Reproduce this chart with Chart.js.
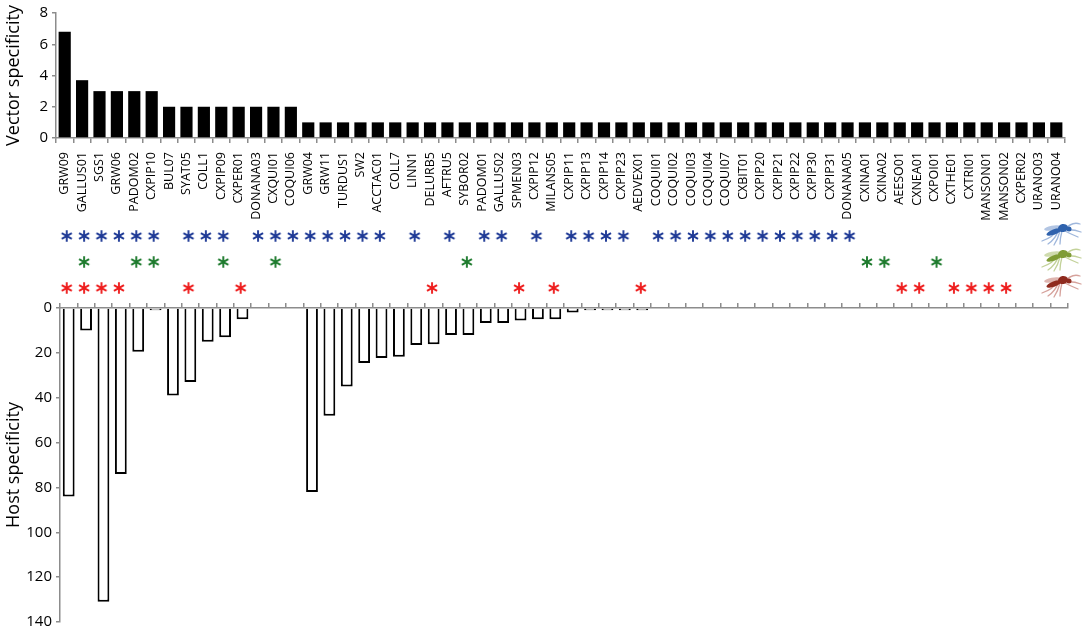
<!DOCTYPE html>
<html>
<head>
<meta charset="utf-8">
<title>Vector and host specificity</title>
<script src="https://cdn.jsdelivr.net/npm/chart.js@4.4.1/dist/chart.umd.min.js"></script>
<style>
    html, body { margin: 0; padding: 0; background: #fff; }
    #page { position: relative; width: 1084px; height: 630px; overflow: hidden; }
    .panel { position: absolute; left: 0; width: 1084px; }
    #vectorPanel { top: 0; height: 240px; }
    #markerPanel { top: 213px; height: 100px; }
    #hostPanel { top: 290px; height: 345px; }
</style>
</head>
<body>
<div id="page">
    <div class="panel" id="vectorPanel"><canvas id="vectorChart"></canvas></div>
    <div class="panel" id="hostPanel"><canvas id="hostChart"></canvas></div>
    <div class="panel" id="markerPanel"><canvas id="markerChart"></canvas></div>
</div>
<script>
// Parasite lineages, in the order of the x axis
const lineages = [
    'GRW09', 'GALLUS01', 'SGS1', 'GRW06', 'PADOM02', 'CXPIP10', 'BUL07', 'SYAT05',
    'COLL1', 'CXPIP09', 'CXPER01', 'DONANA03', 'CXQUI01', 'COQUI06', 'GRW04', 'GRW11',
    'TURDUS1', 'SW2', 'ACCTAC01', 'COLL7', 'LINN1', 'DELURB5', 'AFTRU5', 'SYBOR02',
    'PADOM01', 'GALLUS02', 'SPMEN03', 'CXPIP12', 'MILANS05', 'CXPIP11', 'CXPIP13', 'CXPIP14',
    'CXPIP23', 'AEDVEX01', 'COQUI01', 'COQUI02', 'COQUI03', 'COQUI04', 'COQUI07', 'CXBIT01',
    'CXPIP20', 'CXPIP21', 'CXPIP22', 'CXPIP30', 'CXPIP31', 'DONANA05', 'CXINA01', 'CXINA02',
    'AEESO01', 'CXNEA01', 'CXPOI01', 'CXTHE01', 'CXTRI01', 'MANSON01', 'MANSON02', 'CXPER02',
    'URANO03', 'URANO04'
];

// Number of vector species per lineage
const vectorSpecificity = [
    6.8, 3.7, 3, 3, 3, 3, 2, 2,
    2, 2, 2, 2, 2, 2, 1, 1,
    1, 1, 1, 1, 1, 1, 1, 1,
    1, 1, 1, 1, 1, 1, 1, 1,
    1, 1, 1, 1, 1, 1, 1, 1,
    1, 1, 1, 1, 1, 1, 1, 1,
    1, 1, 1, 1, 1, 1, 1, 1,
    1, 1
];

// Host specificity (null = no host record)
const hostSpecificity = [
    84, 10, 131, 74, 19.5, 1, 39, 33,
    15, 13, 5, null, null, null, 82, 48,
    35, 24.5, 22.3, 21.7, 16.5, 16.2, 12, 12,
    6.7, 6.7, 5.6, 5, 5, 2, 1, 1,
    1, 1, null, null, null, null, null, null,
    null, null, null, null, null, null, null, null,
    null, null, null, null, null, null, null, null,
    null, null
];

const vectorTicks = [0, 2, 4, 6, 8];
const hostTicks = [0, 20, 40, 60, 80, 100, 120, 140];

// Asterisk rows, one per vector group
const markerRows = ['blue', 'green', 'red'];
const blueMarks = [
    'GRW09', 'GALLUS01', 'SGS1', 'GRW06', 'PADOM02', 'CXPIP10', 'SYAT05', 'COLL1',
    'CXPIP09', 'DONANA03', 'CXQUI01', 'COQUI06', 'GRW04', 'GRW11', 'TURDUS1', 'SW2',
    'ACCTAC01', 'LINN1', 'AFTRU5', 'PADOM01', 'GALLUS02', 'CXPIP12', 'CXPIP11', 'CXPIP13',
    'CXPIP14', 'CXPIP23', 'COQUI01', 'COQUI02', 'COQUI03', 'COQUI04', 'COQUI07', 'CXBIT01',
    'CXPIP20', 'CXPIP21', 'CXPIP22', 'CXPIP30', 'CXPIP31', 'DONANA05'
];
const greenMarks = [
    'GALLUS01', 'PADOM02', 'CXPIP10', 'CXPIP09', 'CXQUI01', 'SYBOR02', 'CXINA01', 'CXINA02', 'CXPOI01'
];
const redMarks = [
    'GRW09', 'GALLUS01', 'SGS1', 'GRW06', 'SYAT05', 'CXPER01', 'DELURB5', 'SPMEN03',
    'MILANS05', 'AEDVEX01', 'AEESO01', 'CXNEA01', 'CXTHE01', 'CXTRI01', 'MANSON01', 'MANSON02'
];

const AXIS_GREY = '#8c8c8c';
const FONT = "'Open Sans', sans-serif";

Chart.defaults.font.family = FONT;
Chart.defaults.color = '#000';

const SpecificityCharts = {
    charts: {
        vector: null,
        markers: null,
        host: null
    },

    init() {
        this.initVectorChart();
        this.initMarkerChart();
        this.initHostChart();
    },

    /**
     * Shared left axis settings
     */
    valueAxis(title, ticks, width) {
        return {
            min: ticks[0],
            max: ticks[ticks.length - 1],
            afterBuildTicks: (scale) => {
                scale.ticks = ticks.map(v => ({ value: v }));
            },
            afterFit: (scale) => {
                scale.width = width;
            },
            border: { display: true, color: AXIS_GREY, width: 1.5 },
            grid: { drawOnChartArea: false, drawTicks: true, tickLength: 4, color: AXIS_GREY, lineWidth: 1.5 },
            ticks: { font: { size: 15 }, padding: 4, color: '#000' },
            title: {
                display: true,
                text: title,
                font: { size: 18 },
                color: '#000',
                padding: { top: 3, bottom: 0 }
            }
        };
    },

    /**
     * Top panel: vector specificity, black bars
     */
    initVectorChart() {
        const ctx = document.getElementById('vectorChart').getContext('2d');

        this.charts.vector = new Chart(ctx, {
            type: 'bar',
            data: {
                labels: lineages,
                datasets: [{
                    data: vectorSpecificity,
                    backgroundColor: '#000',
                    borderWidth: 0,
                    barPercentage: 0.7,
                    categoryPercentage: 1.0
                }]
            },
            options: {
                responsive: true,
                maintainAspectRatio: false,
                animation: false,
                layout: { padding: { left: 0, right: 19, top: 13, bottom: 0 } },
                plugins: { legend: { display: false }, tooltip: { enabled: false } },
                scales: {
                    x: {
                        afterFit: (scale) => {
                            scale.height = 102;
                        },
                        border: { display: true, color: AXIS_GREY, width: 1.5 },
                        grid: { offset: true, drawOnChartArea: false, drawTicks: true, tickLength: 5, color: AXIS_GREY, lineWidth: 1.5 },
                        ticks: {
                            autoSkip: false,
                            maxRotation: 90,
                            minRotation: 90,
                            padding: 9,
                            font: { size: 12.5 },
                            color: '#000'
                        }
                    },
                    y: this.valueAxis('Vector specificity', vectorTicks, 56)
                }
            }
        });
    },

    /**
     * Draw a 6-spoke asterisk into a small canvas, used as point style
     */
    asterisk(color) {
        const c = document.createElement('canvas');
        c.width = 14;
        c.height = 14;
        const g = c.getContext('2d');
        g.strokeStyle = color;
        g.lineWidth = 1.9;
        const r = 5.8;
        [90, 30, 150].forEach(deg => {
            const a = deg * Math.PI / 180;
            g.beginPath();
            g.moveTo(7 - r * Math.cos(a), 7 - r * Math.sin(a));
            g.lineTo(7 + r * Math.cos(a), 7 + r * Math.sin(a));
            g.stroke();
        });
        return c;
    },

    /**
     * Small mosquito glyph at the end of each asterisk row
     */
    drawMosquito(g, x, y, body, light) {
        g.save();
        g.lineCap = 'round';
        // legs: front ones hang down-left, hind ones trail to the right
        g.strokeStyle = light;
        g.lineWidth = 1.3;
        [[-2, -16, 11], [0, -10, 14], [2, -4, 15], [4, 2, 14]].forEach(([sx, ex, ey]) => {
            g.beginPath();
            g.moveTo(x + sx, y + 1);
            g.quadraticCurveTo(x + sx - 2, y + ey * 0.6, x + ex, y + ey);
            g.stroke();
        });
        [[6, 22, -6], [7, 23, 2], [5, 20, 7]].forEach(([sx, ex, ey]) => {
            g.beginPath();
            g.moveTo(x + sx, y);
            g.quadraticCurveTo(x + (sx + ex) / 2, y + ey - 3, x + ex, y + ey);
            g.stroke();
        });
        // wing
        g.fillStyle = light;
        g.globalAlpha = 0.8;
        g.beginPath();
        g.ellipse(x - 6, y - 2, 8, 2.2, -0.2, 0, Math.PI * 2);
        g.fill();
        g.globalAlpha = 1;
        // abdomen, thorax, head
        g.fillStyle = body;
        g.beginPath();
        g.ellipse(x - 4, y + 2, 8, 2.6, -0.35, 0, Math.PI * 2);
        g.fill();
        g.beginPath();
        g.ellipse(x + 5, y - 2, 5, 4, -0.2, 0, Math.PI * 2);
        g.fill();
        g.beginPath();
        g.arc(x + 11, y - 1, 2.5, 0, Math.PI * 2);
        g.fill();
        g.restore();
    },

    /**
     * Middle panel: asterisk rows showing which vector groups carry each lineage
     */
    initMarkerChart() {
        const ctx = document.getElementById('markerChart').getContext('2d');
        const groups = [
            { row: 'blue', marks: blueMarks, color: '#1f3a96', body: '#2f62ad', light: '#9fb7dc' },
            { row: 'green', marks: greenMarks, color: '#1e7b2e', body: '#7f9c35', light: '#c3d29a' },
            { row: 'red', marks: redMarks, color: '#ee1d1d', body: '#8f2a1e', light: '#d6a29c' }
        ];

        const mosquitoPlugin = {
            id: 'mosquitoes',
            afterDraw: (chart) => {
                const g = chart.ctx;
                groups.forEach(grp => {
                    const y = chart.scales.y.getPixelForValue(markerRows.indexOf(grp.row));
                    this.drawMosquito(g, chart.width - 26, y - 6, grp.body, grp.light);
                });
            }
        };

        this.charts.markers = new Chart(ctx, {
            type: 'line',
            data: {
                datasets: groups.map(grp => ({
                    data: grp.marks.map(l => ({ x: l, y: grp.row })),
                    showLine: false,
                    pointStyle: this.asterisk(grp.color),
                    pointRadius: 6,
                    clip: false
                }))
            },
            options: {
                responsive: true,
                maintainAspectRatio: false,
                animation: false,
                layout: { padding: { left: 58, right: 17, top: 10, bottom: 12 } },
                plugins: { legend: { display: false }, tooltip: { enabled: false } },
                scales: {
                    x: { type: 'category', labels: lineages, offset: true, display: false },
                    y: { type: 'category', labels: markerRows, offset: true, display: false }
                }
            },
            plugins: [mosquitoPlugin]
        });
    },

    /**
     * Bottom panel: host specificity, open bars hanging from the axis
     */
    initHostChart() {
        const ctx = document.getElementById('hostChart').getContext('2d');
        const yAxis = this.valueAxis('Host specificity', hostTicks, 60);
        yAxis.reverse = true;

        this.charts.host = new Chart(ctx, {
            type: 'bar',
            data: {
                labels: lineages,
                datasets: [{
                    data: hostSpecificity,
                    backgroundColor: '#fff',
                    borderColor: '#000',
                    borderWidth: 2,
                    barPercentage: 0.68,
                    categoryPercentage: 1.0
                }]
            },
            options: {
                responsive: true,
                maintainAspectRatio: false,
                animation: false,
                layout: { padding: { left: 0, right: 16, top: 10, bottom: 0 } },
                plugins: { legend: { display: false }, tooltip: { enabled: false } },
                scales: {
                    x: {
                        position: 'top',
                        afterFit: (scale) => {
                            scale.height = 8;
                        },
                        border: { display: true, color: AXIS_GREY, width: 1.5 },
                        grid: { offset: true, drawOnChartArea: false, drawTicks: true, tickLength: 5, color: AXIS_GREY, lineWidth: 1.5 },
                        ticks: { display: false, autoSkip: false }
                    },
                    y: yAxis
                }
            }
        });
    }
};

SpecificityCharts.init();
</script>
</body>
</html>
